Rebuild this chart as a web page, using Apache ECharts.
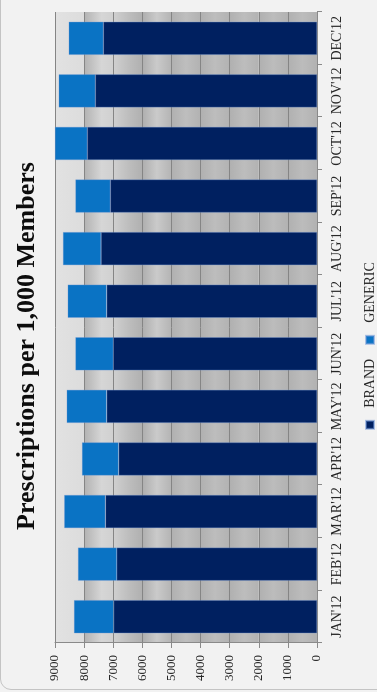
<!DOCTYPE html>
<html>
<head>
<meta charset="utf-8">
<script src="https://cdn.jsdelivr.net/npm/echarts@6/dist/echarts.min.js"></script>
<style>
  html, body { margin: 0; padding: 0; width: 377px; height: 692px; overflow: hidden; background: #f2f2f2; }
  #frame {
    position: absolute; left: 0; top: -12px; width: 420px; height: 702px;
    border: 1px solid #c4c4c4; border-radius: 11px; box-sizing: border-box; background: #f2f2f2;
  }
  /* the chart is laid out landscape and turned a quarter turn counter-clockwise */
  #chart {
    position: absolute; left: 0; top: 0; width: 692px; height: 377px;
    transform-origin: 0 0; transform: translate(0, 692px) rotate(-90deg);
  }
</style>
</head>
<body>
<div id="frame"></div>
<div id="chart"></div>
<script>
// Prescriptions per 1,000 members, by month of 2012
const months = ["JAN'12", "FEB'12", "MAR'12", "APR'12", "MAY'12", "JUN'12",
                "JUL'12", "AUG'12", "SEP'12", "OCT'12", "NOV'12", "DEC'12"];
const brand   = [6985, 6880, 7270, 6815, 7225, 7000, 7225, 7420, 7100, 7890, 7615, 7340];
const generic = [1360, 1330, 1410, 1255, 1375, 1300, 1340, 1305, 1200, 1110, 1260, 1190];
const valueTicks = { min: 0, max: 9000, interval: 1000 };

const serif = "'Liberation Serif', 'DejaVu Serif', serif";

// shaded plot backdrop, one gradient per 1000-wide band (lowest band first)
function band(stops) {
  return new echarts.graphic.LinearGradient(0, 0, 0, 1,
    stops.map(s => ({ offset: s[0], color: s[1] })));
}
const bandFills = [
  band([[0, '#b0b0b0'], [0.5, '#bcbcbc'], [1, '#b2b2b2']]),
  band([[0, '#b0b0b0'], [0.5, '#bcbcbc'], [1, '#b2b2b2']]),
  band([[0, '#b0b0b0'], [0.5, '#bdbdbd'], [1, '#b2b2b2']]),
  band([[0, '#b0b0b0'], [0.5, '#bdbdbd'], [1, '#b2b2b2']]),
  band([[0, '#b0b0b0'], [0.5, '#bebebe'], [1, '#b2b2b2']]),
  band([[0, '#aeaeae'], [0.5, '#cacaca'], [1, '#b4b4b4']]),
  band([[0, '#d0d0d0'], [0.55, '#bdbdbd'], [1, '#b0b0b0']]),
  band([[0, '#b2b2b2'], [0.6, '#d6d6d6'], [1, '#d0d0d0']]),
  band([[0, '#e2e2e2'], [1, '#dcdcdc']])
];

const chart = echarts.init(document.getElementById('chart'), null, { renderer: 'canvas' });
chart.setOption({
  backgroundColor: 'transparent',
  animation: false,
  title: {
    text: 'Prescriptions per 1,000 Members',
    left: 'center',
    top: 9,
    textStyle: { fontFamily: serif, fontWeight: 'bold', fontSize: 26, color: '#0d0d0d' }
  },
  legend: {
    data: ['BRAND', 'GENERIC'],
    left: 'center',
    top: 358,
    icon: 'rect',
    itemWidth: 8,
    itemHeight: 8,
    itemGap: 14,
    textStyle: { fontFamily: serif, fontSize: 14, color: '#262626', padding: [0, 0, 0, 8] }
  },
  grid: { left: 49, right: 12, top: 55, bottom: 60 },
  xAxis: {
    type: 'category',
    data: months,
    axisLine: { lineStyle: { color: '#8a8a8a' } },
    axisTick: { show: true, length: 5, lineStyle: { color: '#8a8a8a' } },
    axisLabel: { fontFamily: serif, fontSize: 14, color: '#262626', margin: 13, interval: 0 }
  },
  yAxis: {
    type: 'value',
    min: valueTicks.min,
    max: valueTicks.max,
    interval: valueTicks.interval,
    axisLine: { show: true, lineStyle: { color: '#8a8a8a' } },
    axisTick: { show: true, length: 5, lineStyle: { color: '#8a8a8a' } },
    axisLabel: {
      fontFamily: serif, fontSize: 13, color: '#262626', margin: 12,
      formatter: v => String(v)
    },
    splitLine: { show: true, lineStyle: { color: '#858585', width: 1 } },
    splitArea: { show: true, areaStyle: { color: bandFills } }
  },
  series: [
    {
      name: 'BRAND', type: 'bar', stack: 'rx', data: brand, barWidth: '63%',
      itemStyle: { color: '#002060', borderColor: 'rgba(110,150,215,0.55)', borderWidth: 0.6 }
    },
    {
      name: 'GENERIC', type: 'bar', stack: 'rx', data: generic, barWidth: '63%',
      itemStyle: { color: '#0a73c4', borderColor: 'rgba(110,150,215,0.55)', borderWidth: 0.6 }
    }
  ]
});
</script>
</body>
</html>
